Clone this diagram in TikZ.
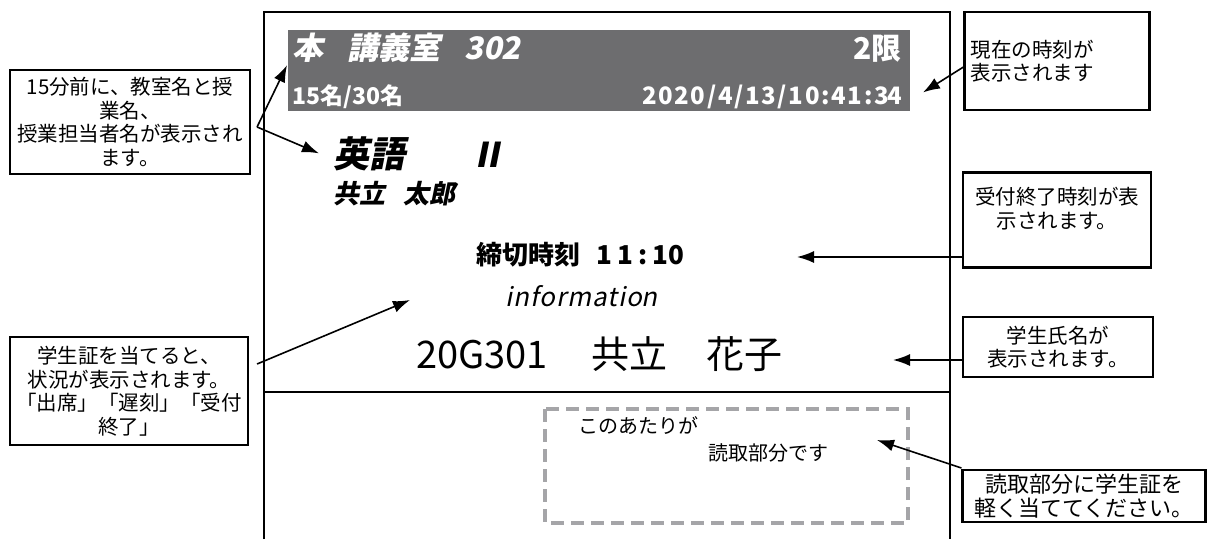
\documentclass[tikz,border=0pt]{standalone}
\usepackage{fontspec}
\setmainfont{Noto Sans CJK JP}
\newfontfamily\jp{Noto Sans CJK JP}
\newfontfamily\jpsl[FakeSlant=0.2]{Noto Sans CJK JP}
\usetikzlibrary{arrows.meta,positioning}

\definecolor{bargray}{RGB}{109,109,111}
\definecolor{dashgray}{RGB}{165,165,168}

\tikzset{
  panel/.style={line width=2.8pt},
  note/.style={draw, line width=2.1pt, inner sep=0pt, align=center,
    font=\jp\fontsize{20.5}{23.5}\selectfont},
  pointer/.style={line width=1.6pt, -{Latex[length=17pt,width=12pt]}},
  bartext/.style={text=white, inner sep=0pt},
  screen/.style={inner sep=0pt}
}

\begin{document}
\begin{tikzpicture}[x=1pt,y=-1pt]
\useasboundingbox (0,0) rectangle (1207,539);

\draw [panel] (264,539) -- (264,12) -- (950,12) -- (950,539);
\draw [panel] (264,392) -- (950,392);

\fill [bargray] (288,30) rectangle (910,111);
\node [bartext, anchor=base west, font=\jpsl\bfseries\fontsize{31}{31}\selectfont] (room) at (292,59) {本\hspace{24pt}講義室\hspace{24pt}302};
\node [bartext, anchor=base east, font=\jp\bfseries\fontsize{30}{30}\selectfont] (period) at (902,59) {2限};
\node [bartext, anchor=base west, font=\jp\bfseries\fontsize{23}{23}\selectfont] (count) at (292,104) {15名/30名};
\node [bartext, anchor=base east, font=\jp\bfseries\fontsize{24}{24}\selectfont] (clock) at (902,104) {\addfontfeature{LetterSpace=7}2020/4/13/10:41:3\kern-1.7pt4};

\node [screen, anchor=base west, font=\jpsl\bfseries\fontsize{36}{36}\selectfont] (subject) at (333,167) {英語};
\node [screen, anchor=base west, font=\jpsl\bfseries\fontsize{34}{34}\selectfont] (level) at (470,167) {Ⅱ};
\node [screen, anchor=base west, font=\jpsl\bfseries\fontsize{26}{26}\selectfont] (teacher) at (333,203) {共立\hspace{18pt}太郎};
\node [screen, anchor=base west, font=\jp\bfseries\fontsize{26}{26}\selectfont] (deadline) at (476,264) {締切時刻\hspace{16pt}{\addfontfeature{LetterSpace=20}11:1}0};
\node [screen, anchor=base west, font=\jpsl\fontsize{26}{26}\selectfont] (info) at (505,306) {\addfontfeature{LetterSpace=4}informatio\kern-1pt n};
\node [screen, anchor=base west, font=\jp\fontsize{38}{38}\selectfont] (student) at (416,368) {20G301\hspace{44pt}共立\hspace{39pt}花子};

\draw [dashgray, line width=3.2pt, dash pattern=on 13pt off 7pt] (545,409) rectangle (908,523);
\node [screen, anchor=base west, font=\jp\fontsize{20}{20}\selectfont] (here) at (578,433) {このあたりが};
\node [screen, anchor=base west, font=\jp\fontsize{20}{20}\selectfont] (reader) at (708,460) {読取部分です};

\node [note, minimum width=240pt, minimum height=104pt] (c1) at (130,122)
  {15分前に、教室名と授\\業名、\\授業担当者名が表示され\\ます。};
\node [note, text width=173pt, inner xsep=6pt, align=left, minimum height=98pt] (c2) at (1057,61)
  {現在の時刻が\\表示されます};
\node [note, minimum width=188pt, minimum height=95pt] (c3) at (1057,220)
  {受付終了時刻が表\\示されます。\rule[-24pt]{0pt}{0pt}};
\node [note, minimum width=190pt, minimum height=60pt] (c4) at (1058,347)
  {学生氏名が\\表示されます。};
\node [note, minimum width=238pt, minimum height=108pt] (c5) at (129,391)
  {学生証を当てると、\\状況が表示されます。\\「出席」「遅刻」「受付\\終了」};
\node [note, minimum width=243pt, minimum height=52pt, font=\jp\fontsize{22}{24}\selectfont] (c6) at (1084,496)
  {読取部分に学生証を\\軽く当ててください。};

\coordinate (c1out) at ([shift={(6,5)}]c1.east);
\coordinate (c5out) at ([shift={(8,-27)}]c5.east);
\coordinate (c6out) at ([shift={(0,-28)}]c6.west);
\coordinate (clocktip) at ([shift={(21,-4)}]clock.east);
\coordinate (deadtip) at (797,257);
\coordinate (studenttip) at (893,360);
\coordinate (infotip) at (410,300);
\coordinate (readertip) at (877,440);

\draw [pointer] (c1out) -- ([shift={(-5,3)}]room.south west);
\draw [pointer] (c1out) -- ([xshift=-14pt]subject.west);
\draw [pointer] ([yshift=-6pt]c2.west) -- (clocktip);
\draw [pointer] (c3.west |- deadtip) -- (deadtip);
\draw [pointer] (c4.west |- studenttip) -- (studenttip);
\draw [pointer] (c5out) -- (infotip);
\draw [pointer] (c6out) -- (readertip);

\end{tikzpicture}
\end{document}
